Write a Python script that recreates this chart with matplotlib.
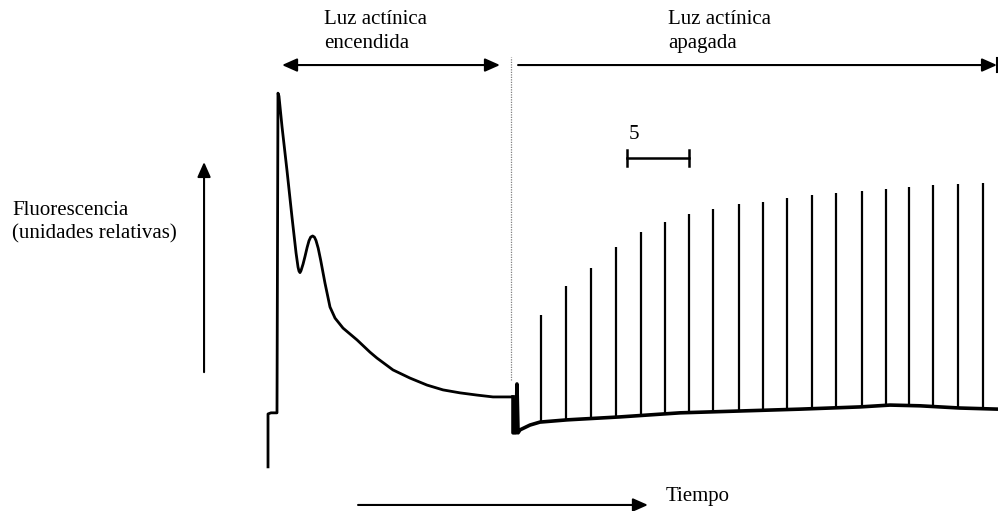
import numpy as np
import matplotlib
matplotlib.use("Agg")
import matplotlib.pyplot as plt

plt.rcParams['font.family'] = ['Liberation Serif', 'DejaVu Serif']

# Fluorescence trace while the actinic light is on (time in s, relative units)
on_time = [0.00, 0.00, 0.24, 0.73, 0.81, 0.89, 1.14, 1.54, 1.95, 2.28, 2.44,
           2.52, 2.60, 2.68, 2.85, 3.01, 3.18, 3.33, 3.47, 3.63, 3.77, 3.90,
           4.08, 4.28, 4.63, 5.04, 5.45, 6.10, 7.24, 8.29, 8.86, 10.16, 11.54,
           12.93, 14.23, 15.61, 16.99, 18.29, 19.92]
on_fluor = [-0.5, 13.8, 14.1, 14.1, 100.5, 99.7, 91.4, 79.7, 67.0, 57.3, 53.5,
            52.4, 52.0, 52.5, 54.3, 56.4, 58.8, 60.6, 61.6, 61.9, 61.6, 60.7,
            58.6, 55.4, 49.2, 42.7, 39.7, 37.0, 33.8, 30.5, 28.9, 25.7, 23.5,
            21.6, 20.3, 19.5, 18.9, 18.4, 18.4]

# Trace after the actinic light is switched off (baseline between pulses)
off_time = [19.92, 19.92, 20.16, 20.24, 20.33, 20.49, 21.30, 22.11, 24.31,
            25.37, 28.62, 33.50, 38.37, 43.25, 48.13, 50.57, 53.01, 56.26,
            59.35]
off_fluor = [18.4, 8.7, 8.7, 21.9, 8.7, 9.5, 10.8, 11.6, 12.2,
             12.4, 13.0, 14.1, 14.6, 15.1, 15.7, 16.2, 16.0, 15.4,
             15.1]

# Saturating pulses in the dark: times and peak fluorescence
pulse_time = [22.20, 24.23, 26.26, 28.29, 30.33, 32.28, 34.23, 36.18, 38.29,
              40.24, 42.20, 44.23, 46.18, 48.29, 50.24, 52.11, 54.07, 56.10,
              58.13]
pulse_peak = [40.5, 48.4, 53.2, 58.9, 63.0, 65.7, 67.8, 69.2, 70.5,
              71.1, 72.2, 73.0, 73.5, 74.1, 74.6, 75.1, 75.7, 75.9,
              76.2]

scale_len = 5  # s
light_off_time = 19.76

fig = plt.figure(figsize=(9.98, 5.11), dpi=100)
ax = fig.add_axes([0, 0, 1, 1])
ax.set_xlim(-21.79, 59.35)
ax.set_ylim(-12.43, 125.68)
ax.axis('off')

ax.plot(on_time, on_fluor, color='black', lw=2.0)
ax.plot(off_time, off_fluor, color='black', lw=2.6)
base_at_pulse = np.interp(pulse_time, off_time, off_fluor)
ax.vlines(pulse_time, base_at_pulse, pulse_peak, color='black', lw=1.6)

# boundary between light on / off
ax.plot([light_off_time, light_off_time], [23.0, 110.3], color='#808080',
        lw=0.9, ls=(0, (1, 1)))

fs = 15
arrow_kw = dict(color='black', lw=1.5, shrinkA=0, shrinkB=0)

# light-on period
ax.annotate('', xy=(1.14, 108.1), xytext=(18.86, 108.1),
            arrowprops=dict(arrowstyle='<|-|>,head_length=0.9,head_width=0.4', **arrow_kw))
ax.text(4.55, 120.3, 'Luz actínica', fontsize=fs, ha='left', va='center')
ax.text(4.55, 114.0, 'encendida', fontsize=fs, ha='left', va='center')

# light-off period
ax.annotate('', xy=(20.33, 108.1), xytext=(59.27, 108.1),
            arrowprops=dict(arrowstyle='<|-,head_length=0.9,head_width=0.4', **arrow_kw))
ax.plot([59.27, 59.27], [106.2, 110.0], color='black', lw=1.5)
ax.text(32.5, 120.3, 'Luz actínica', fontsize=fs, ha='left', va='center')
ax.text(32.5, 114.0, 'apagada', fontsize=fs, ha='left', va='center')

# scale bar
sb_x0 = 29.2
sb_y = 83.0
ax.plot([sb_x0, sb_x0 + scale_len], [sb_y, sb_y], color='black', lw=1.8)
ax.plot([sb_x0, sb_x0], [sb_y - 2.2, sb_y + 2.2], color='black', lw=1.8)
ax.plot([sb_x0 + scale_len, sb_x0 + scale_len], [sb_y - 2.2, sb_y + 2.2],
        color='black', lw=1.8)
ax.text(29.76, 89.2, str(scale_len), fontsize=fs, ha='center', va='center')

# fluorescence axis arrow
ax.annotate('', xy=(-5.2, 81.9), xytext=(-5.2, 25.1),
            arrowprops=dict(arrowstyle='-|>,head_length=0.9,head_width=0.4', **arrow_kw))
ax.text(-20.8, 68.9, 'Fluorescencia', fontsize=fs, ha='left', va='center')
ax.text(-20.8, 62.6, '(unidades relativas)', fontsize=fs, ha='left', va='center')

# time axis arrow
ax.annotate('', xy=(30.89, -10.8), xytext=(7.32, -10.8),
            arrowprops=dict(arrowstyle='-|>,head_length=0.9,head_width=0.4', **arrow_kw))
ax.text(32.3, -8.4, 'Tiempo', fontsize=fs, ha='left', va='center')

fig.savefig('out.png', dpi=100)
